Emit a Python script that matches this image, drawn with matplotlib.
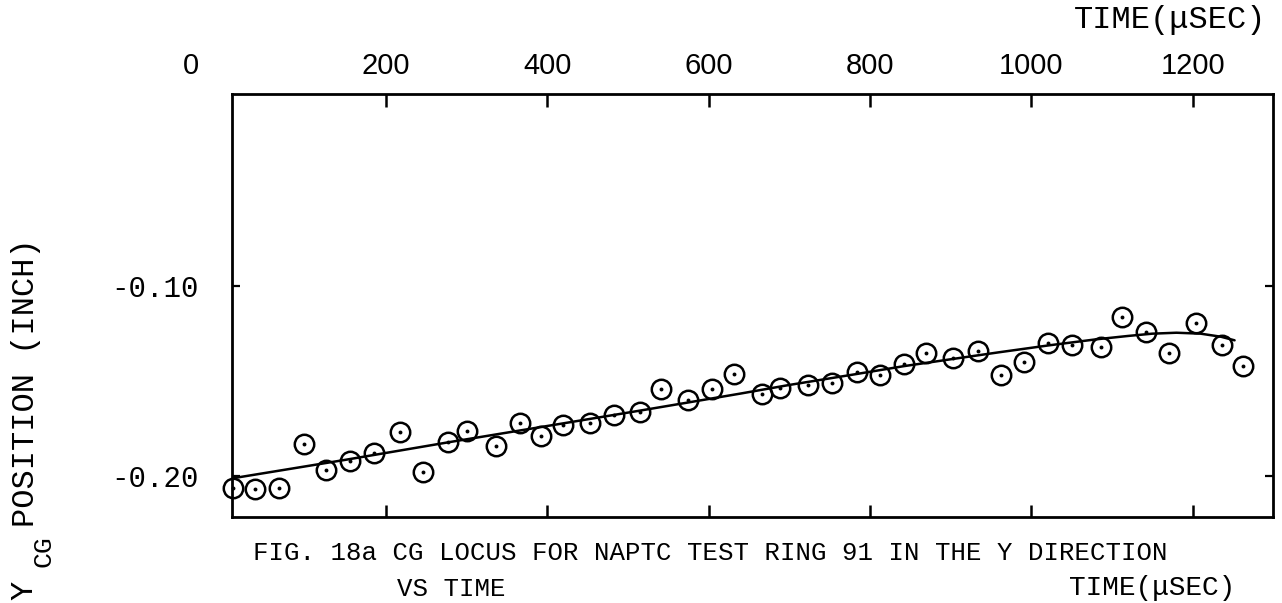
import matplotlib
matplotlib.use("Agg")
import matplotlib.pyplot as plt

# Measured CG positions (time in microseconds, position in inches)
time_us = [10, 38, 68, 98, 126, 156, 185, 217, 246, 277, 301, 336, 366, 392,
           420, 453, 483, 515, 541, 575, 604, 632, 666, 689, 723, 753, 784,
           813, 842, 870, 903, 934, 963, 991, 1021, 1050, 1086, 1113, 1142,
           1171, 1204, 1236, 1263]
y_cg = [-0.206, -0.207, -0.206, -0.183, -0.197, -0.192, -0.188, -0.177,
        -0.198, -0.182, -0.176, -0.184, -0.172, -0.179, -0.173, -0.172,
        -0.168, -0.166, -0.154, -0.160, -0.154, -0.146, -0.157, -0.1535,
        -0.152, -0.151, -0.145, -0.147, -0.141, -0.135, -0.138, -0.134,
        -0.147, -0.140, -0.130, -0.131, -0.132, -0.116, -0.124, -0.135,
        -0.1195, -0.131, -0.142]

# Smoothed locus curve
curve_t = [9, 150, 280, 420, 515, 575, 640, 700, 784, 842, 903, 960, 1021,
           1080, 1120, 1150, 1180, 1210, 1235, 1252]
curve_y = [-0.2012, -0.1914, -0.1820, -0.1722, -0.1655, -0.1612, -0.1565,
           -0.1520, -0.1462, -0.1421, -0.1383, -0.1348, -0.1312, -0.1280,
           -0.1262, -0.1250, -0.1245, -0.1250, -0.1266, -0.1285]

top_ticks = [200, 400, 600, 800, 1000, 1200]
top_tick_labels = ["200", "400", "600", "800", "1000", "1200"]
y_ticks = [-0.20, -0.10]
y_tick_labels = ["-0.20", "-0.10"]

MONO = "Liberation Mono"
SANS = "Liberation Sans"

W, H = 1282, 603
fig = plt.figure(figsize=(W / 100, H / 100), dpi=100)
fig.patch.set_facecolor("white")


def fx(px):
    return px / W


def fy(py):
    return 1 - py / H


ax = fig.add_axes([fx(231.7), fy(517), (1273.3 - 231.7) / W, (517 - 94.3) / H])
ax.set_xlim(9, 1300)
ax.set_ylim(-0.2215, 0.001)

for sp in ax.spines.values():
    sp.set_linewidth(2.0)
    sp.set_color("black")

# fitted curve
ax.plot(curve_t, curve_y, color="black", lw=1.8, solid_capstyle="round",
        solid_joinstyle="round", zorder=2)
# data circles with centre dots
ax.plot(time_us, y_cg, linestyle="none", marker="o", ms=14, mfc="none",
        mec="black", mew=1.8, zorder=3, clip_on=False)
ax.plot(time_us, y_cg, linestyle="none", marker="o", ms=2.8, mfc="black",
        mec="black", mew=0, zorder=4, clip_on=False)

# x ticks: labels on top, inward ticks on both edges
ax.set_xticks(top_ticks)
ax.set_xticklabels(top_tick_labels, fontfamily=SANS, fontsize=21)
ax.tick_params(axis="x", which="major", direction="in", top=True, bottom=True,
               labeltop=True, labelbottom=False, length=9, width=1.8, pad=10)

ax.set_yticks(y_ticks)
ax.set_yticklabels(y_tick_labels, fontfamily=MONO, fontsize=21)
ax.tick_params(axis="y", which="major", direction="in", left=True, right=True,
               length=6, width=1.6, pad=24)

ax.annotate("0", xy=(-0.039, 1), xycoords="axes fraction", xytext=(0, 10),
            textcoords="offset points", ha="center", va="bottom",
            fontfamily=SANS, fontsize=21, annotation_clip=False)

# axis titles
fig.text(fx(1266), fy(20), "TIME(\u03bcSEC)", ha="right", va="center",
         fontfamily=MONO, fontsize=23)
fig.text(fx(26), fy(527), "POSITION (INCH)", rotation=90, ha="center",
         va="bottom", fontfamily=MONO, fontsize=23)
fig.text(fx(44), fy(551), "CG", rotation=90, ha="center", va="center",
         fontfamily=MONO, fontsize=19)
fig.text(fx(24), fy(600), "Y", rotation=90, ha="center", va="bottom",
         fontfamily=MONO, fontsize=23)

# caption
fig.text(fx(253), fy(553), "FIG. 18a CG LOCUS FOR NAPTC TEST RING 91 IN THE Y DIRECTION",
         ha="left", va="center", fontfamily=MONO, fontsize=18.5)
fig.text(fx(397), fy(601), "VS TIME", ha="left", va="bottom",
         fontfamily=MONO, fontsize=18.5)
fig.text(fx(1235), fy(601), "TIME(\u03bcSEC)", ha="right", va="bottom",
         fontfamily=MONO, fontsize=20)

fig.savefig("out.png", dpi=100, facecolor="white")
